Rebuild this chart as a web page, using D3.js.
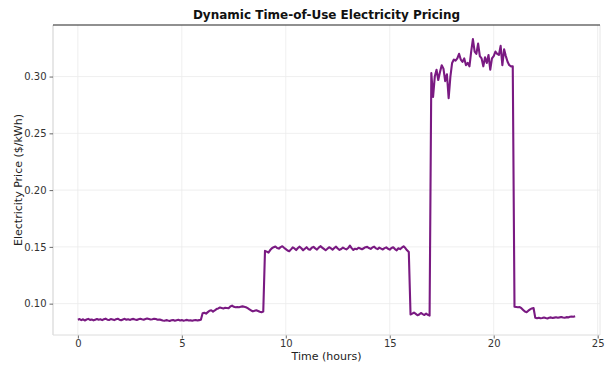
<!DOCTYPE html>
<html>
<head>
<meta charset="utf-8">
<script src="https://cdn.jsdelivr.net/npm/d3@7/dist/d3.min.js"></script>
<style>
html,body{margin:0;padding:0;background:#fff;}
svg{display:block;}
text{font-family:"DejaVu Sans",sans-serif;}
</style>
</head>
<body>
<svg id="chart" width="606" height="365"></svg>
<script>
// Sampling interval of the series (minutes)
const intervalMinutes = 5;

// Price values ($/kWh), one per 5-minute step, grouped by period
const priceNight = [ // 00:00 - 05:55
  0.0858, 0.0864, 0.0855, 0.0862, 0.0852, 0.0860, 0.0866, 0.0857, 0.0861, 0.0853, 0.0859, 0.0865,
  0.0858, 0.0862, 0.0855, 0.0863, 0.0868, 0.0859, 0.0856, 0.0864, 0.0860, 0.0855, 0.0862, 0.0867,
  0.0859, 0.0854, 0.0861, 0.0866, 0.0858, 0.0863, 0.0857, 0.0862, 0.0866, 0.0860, 0.0856, 0.0863,
  0.0867, 0.0862, 0.0858, 0.0864, 0.0869, 0.0865, 0.0860, 0.0863, 0.0867, 0.0864, 0.0858, 0.0861,
  0.0857, 0.0852, 0.0849, 0.0855, 0.0851, 0.0848, 0.0853, 0.0856, 0.0850, 0.0854, 0.0858, 0.0852,
  0.0855, 0.0850, 0.0853, 0.0857, 0.0851, 0.0854, 0.0849, 0.0853, 0.0856, 0.0851, 0.0855, 0.0858
];
const priceMorning = [ // 06:00 - 08:55
  0.0915, 0.0920, 0.0912, 0.0925, 0.0938, 0.0942, 0.0930, 0.0940, 0.0952, 0.0958, 0.0966, 0.0962,
  0.0958, 0.0963, 0.0962, 0.0960, 0.0975, 0.0983, 0.0972, 0.0968, 0.0970, 0.0968, 0.0972, 0.0976,
  0.0972, 0.0968, 0.0960, 0.0950, 0.0940, 0.0932, 0.0938, 0.0942, 0.0935, 0.0928, 0.0925, 0.0930
];
const priceDay = [ // 09:00 - 15:55
  0.1465, 0.1458, 0.1450, 0.1472, 0.1488, 0.1497, 0.1503, 0.1490, 0.1485, 0.1498, 0.1505, 0.1492,
  0.1480, 0.1468, 0.1462, 0.1478, 0.1495, 0.1486, 0.1472, 0.1490, 0.1502, 0.1488, 0.1470, 0.1484,
  0.1497, 0.1480, 0.1475, 0.1492, 0.1500, 0.1487, 0.1476, 0.1493, 0.1506, 0.1494, 0.1482, 0.1470,
  0.1483, 0.1497, 0.1488, 0.1476, 0.1490, 0.1502, 0.1486, 0.1474, 0.1481, 0.1494, 0.1485, 0.1478,
  0.1490, 0.1511, 0.1489, 0.1473, 0.1484, 0.1480, 0.1492, 0.1486, 0.1479, 0.1488, 0.1497, 0.1500,
  0.1490, 0.1482, 0.1495, 0.1502, 0.1487, 0.1480, 0.1493, 0.1485, 0.1477, 0.1489, 0.1496, 0.1483,
  0.1476, 0.1490, 0.1497, 0.1481, 0.1470, 0.1488, 0.1480, 0.1494, 0.1505, 0.1490, 0.1470, 0.1455
];
const priceDip = [ // 16:00 - 16:55
  0.0905, 0.0912, 0.0922, 0.0910, 0.0898, 0.0905, 0.0918, 0.0908, 0.0900, 0.0912, 0.0902, 0.0895
];
const pricePeak = [ // 17:00 - 20:55
  0.3030, 0.2820, 0.3000, 0.3060, 0.2970, 0.3040, 0.3100, 0.3070, 0.2960, 0.3020, 0.2810, 0.3000,
  0.3120, 0.3150, 0.3140, 0.3160, 0.3200, 0.3150, 0.3130, 0.3160, 0.3100, 0.3120, 0.3090, 0.3220,
  0.3330, 0.3220, 0.3200, 0.3290, 0.3180, 0.3160, 0.3090, 0.3170, 0.3120, 0.3190, 0.3060, 0.3160,
  0.3180, 0.3220, 0.3200, 0.3190, 0.3270, 0.3100, 0.3240, 0.3180, 0.3130, 0.3100, 0.3090, 0.3090
];
const priceEvening = [ // 21:00 - 21:55
  0.0972, 0.0970, 0.0968, 0.0970, 0.0960, 0.0945, 0.0930, 0.0925, 0.0938, 0.0950, 0.0958, 0.0962
];
const priceLate = [ // 22:00 - 23:55
  0.0875, 0.0872, 0.0876, 0.0871, 0.0874, 0.0878, 0.0873, 0.0870, 0.0876, 0.0879, 0.0874, 0.0877,
  0.0880, 0.0876, 0.0879, 0.0883, 0.0878, 0.0876, 0.0881, 0.0879, 0.0884, 0.0886, 0.0885, 0.0890
];

const xTicks = [0, 5, 10, 15, 20, 25];
const yTicks = [0.10, 0.15, 0.20, 0.25, 0.30];
const titleText = "Dynamic Time-of-Use Electricity Pricing";
const xLabel = "Time (hours)";
const yLabel = "Electricity Price ($/kWh)";

const prices = [].concat(priceNight, priceMorning, priceDay, priceDip, pricePeak, priceEvening, priceLate);
const series = prices.map((p, i) => ({ t: i * intervalMinutes / 60, p }));

const margin = { left: 53, right: 6, top: 25, bottom: 30 };
const W = 606, H = 365;
const svg = d3.select("#chart");

// matplotlib-like 5% autoscale margins
const [tMin, tMax] = d3.extent(series, d => d.t);
const [pMin, pMax] = d3.extent(series, d => d.p);
const tPad = (tMax - tMin) * 0.05, pPad = (pMax - pMin) * 0.05;

const x = d3.scaleLinear().domain([tMin - tPad, tMax + tPad]).range([margin.left, W - margin.right]);
const y = d3.scaleLinear().domain([pMin - pPad, pMax + pPad]).range([H - margin.bottom, margin.top]);

const x0 = margin.left, x1 = W - margin.right, y0 = H - margin.bottom, y1 = margin.top;

// Grid
const grid = svg.append("g");
grid.selectAll("line.gx").data(xTicks.filter(t => x(t) <= x1)).join("line")
  .attr("x1", d => x(d)).attr("x2", d => x(d)).attr("y1", y0).attr("y2", y1)
  .attr("stroke", "#ebebeb").attr("stroke-width", 0.8);
grid.selectAll("line.gy").data(yTicks).join("line")
  .attr("x1", x0).attr("x2", x1).attr("y1", d => y(d)).attr("y2", d => y(d))
  .attr("stroke", "#ebebeb").attr("stroke-width", 0.8);

// Frame
svg.append("line").attr("x1", x0).attr("x2", x0).attr("y1", y0).attr("y2", y1).attr("stroke", "#cfcfcf").attr("stroke-width", 1);
svg.append("line").attr("x1", x1).attr("x2", x1).attr("y1", y0).attr("y2", y1).attr("stroke", "#e6e6e6").attr("stroke-width", 1);
svg.append("line").attr("x1", x0).attr("x2", x1).attr("y1", y0).attr("y2", y0).attr("stroke", "#dcdcdc").attr("stroke-width", 1);
svg.append("line").attr("x1", x0).attr("x2", x1).attr("y1", y1).attr("y2", y1).attr("stroke", "#222").attr("stroke-width", 1.2);

// Axes
const xAxis = d3.axisBottom(x).tickValues(xTicks).tickFormat(d3.format("d")).tickSize(3).tickPadding(1.5);
const yAxis = d3.axisLeft(y).tickValues(yTicks).tickFormat(d3.format(".2f")).tickSize(3.5).tickPadding(3);

const gx = svg.append("g").attr("transform", `translate(0,${y0 + 0.5})`).call(xAxis);
const gy = svg.append("g").attr("transform", `translate(${x0},0)`).call(yAxis);
[gx, gy].forEach(g => {
  g.select(".domain").remove();
  g.selectAll(".tick line").attr("stroke", "#444").attr("stroke-width", 0.8);
  g.selectAll(".tick text").attr("fill", "#333").attr("font-size", 10).attr("font-family", "DejaVu Sans, sans-serif");
});

// Line
const line = d3.line().x(d => x(d.t)).y(d => y(d.p));
svg.append("path").datum(series)
  .attr("fill", "none").attr("stroke", "#7a1a82").attr("stroke-width", 2.1)
  .attr("stroke-linejoin", "round").attr("d", line);

// Title and labels
svg.append("text").attr("x", (x0 + x1) / 2).attr("y", 19).attr("text-anchor", "middle")
  .attr("font-size", 12).attr("font-weight", "bold").attr("fill", "#111").text(titleText);
svg.append("text").attr("x", (x0 + x1) / 2).attr("y", 360).attr("text-anchor", "middle")
  .attr("font-size", 11).attr("fill", "#222").text(xLabel);
svg.append("text").attr("transform", `translate(22,${(y0 + y1) / 2}) rotate(-90)`).attr("text-anchor", "middle")
  .attr("font-size", 11).attr("fill", "#222").text(yLabel);
</script>
</body>
</html>
